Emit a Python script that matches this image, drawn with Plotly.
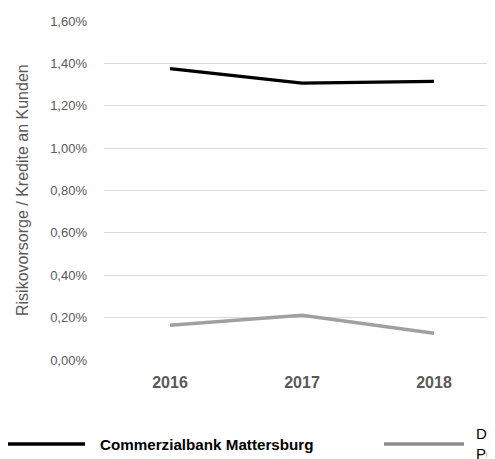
import plotly.graph_objects as go

years = ["2016", "2017", "2018"]
commerzialbank = [0.01375, 0.01307, 0.01315]
peer = [0.00164, 0.00211, 0.00126]
series_names = ["Commerzialbank Mattersburg", "Durchschnitt<br>Peergroup"]
y_title = "Risikovorsorge / Kredite an Kunden"

# page has an 8px body margin
OFF = 8
W, H = 495 - OFF, 459 - OFF
PL, PT, PB = 104, 21, 360          # plot edges in page pixels
L, T = PL - OFF, PT - OFF
B = H - (PB - OFF)
R = 0
pw = W - L - R
ph = H - T - B
cat_px = 132.0
FONT = "Liberation Sans, Arial"

fig = go.Figure()
fig.add_trace(go.Scatter(x=years, y=commerzialbank, mode="lines", name=series_names[0],
                         line=dict(color="#000000", width=3.4), showlegend=False))
fig.add_trace(go.Scatter(x=years, y=peer, mode="lines", name=series_names[1],
                         line=dict(color="#a0a0a0", width=3.4), showlegend=False))

def px_x(p):
    return (p - PL) / pw

def px_y(p):
    return (PB - p) / ph

# manual legend
leg_y = px_y(444)
fig.add_shape(type="line", xref="paper", yref="paper", x0=px_x(5), x1=px_x(85), y0=leg_y, y1=leg_y,
              line=dict(color="#000000", width=3.6))
fig.add_annotation(xref="paper", yref="paper", x=px_x(98), y=leg_y, text="<b>" + series_names[0] + "</b>",
                   showarrow=False, xanchor="left", yanchor="middle",
                   font=dict(size=15.2, color="#000000", family=FONT))
fig.add_shape(type="line", xref="paper", yref="paper", x0=px_x(384), x1=px_x(464), y0=leg_y, y1=leg_y,
              line=dict(color="#8c8c8c", width=3.6))
fig.add_annotation(xref="paper", yref="paper", x=px_x(474), y=px_y(443), text=series_names[1],
                   showarrow=False, xanchor="left", yanchor="middle", align="left",
                   font=dict(size=15, color="#000000", family=FONT))

# y title
fig.add_annotation(xref="paper", yref="paper", x=px_x(22), y=px_y(190), text=y_title,
                   showarrow=False, textangle=-90, xanchor="center", yanchor="middle",
                   font=dict(size=16, color="#595959", family=FONT))

fig.update_layout(
    width=W, height=H,
    margin=dict(l=L, r=R, t=T, b=B, pad=0),
    paper_bgcolor="white", plot_bgcolor="white",
    separators=",.",
    font=dict(family=FONT, color="#595959"),
    xaxis=dict(type="category", range=[-0.5, -0.5 + pw / cat_px], showgrid=False, zeroline=False,
               showline=False, ticks="", tickfont=dict(size=16, color="#595959", family=FONT),
               tickprefix="<b>", ticksuffix="</b>", ticklabelstandoff=11),
    yaxis=dict(range=[0, 0.016], dtick=0.002, tick0=0, tickformat=".2%", showgrid=True,
               gridcolor="#d9d9d9", gridwidth=1.3, zeroline=False, showline=False, ticks="",
               tickfont=dict(size=13, color="#595959", family=FONT),
               ticklabelstandoff=16),
)

fig.write_html("out.html")
